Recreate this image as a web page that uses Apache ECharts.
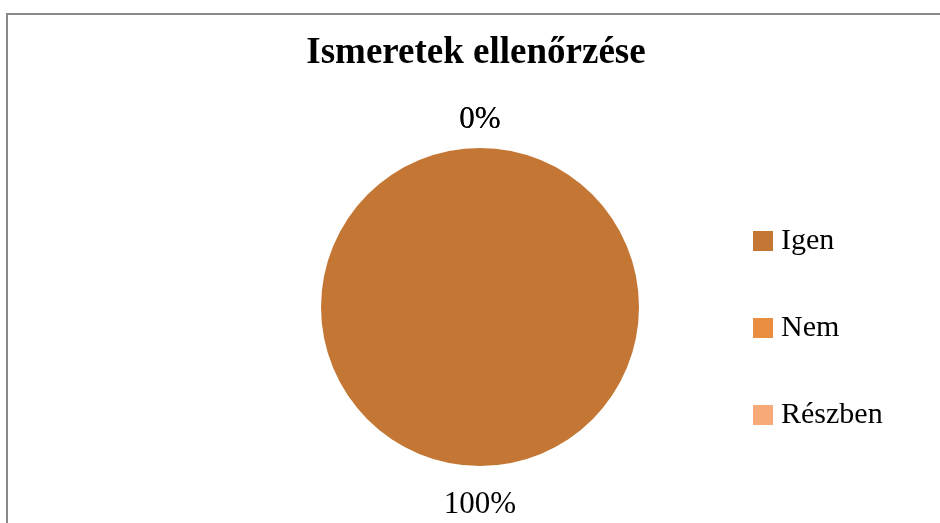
<!DOCTYPE html>
<html>
<head>
<meta charset="utf-8">
<script src="https://cdn.jsdelivr.net/npm/echarts@6/dist/echarts.min.js"></script>
<style>html,body{margin:0;padding:0;background:#fff}#c{width:940px;height:523px}</style>
</head>
<body>
<div id="c"></div>
<script>
var categories = ['Igen', 'Nem', 'Részben'];
var values = [100, 0, 0];
var colors = ['#C47735', '#E98D40', '#F7AA78'];
var titleText = 'Ismeretek ellenőrzése';
var FONT = '"Liberation Serif", "Times New Roman", serif';

var chart = echarts.init(document.getElementById('c'), null, {renderer: 'canvas'});
var data = categories.map(function (c, i) {
  return {name: c, value: values[i], itemStyle: {color: colors[i]}};
});
chart.setOption({
  animation: false,
  backgroundColor: '#ffffff',
  graphic: [{
    type: 'rect', silent: true,
    shape: {x: 7, y: 14, width: 1000, height: 600},
    style: {fill: 'none', stroke: '#898989', lineWidth: 2}
  }],
  title: {
    text: titleText, left: 471, top: 30, textAlign: 'center',
    textStyle: {fontFamily: FONT, fontSize: 37, fontWeight: 'bold', color: '#000'}
  },
  legend: {
    orient: 'vertical', left: 753, top: 226, padding: 0,
    itemWidth: 20, itemHeight: 20, itemGap: 57, icon: 'rect',
    data: categories,
    textStyle: {fontFamily: FONT, fontSize: 30, color: '#000', padding: [0, 0, 0, 3]}
  },
  series: [{
    type: 'pie',
    center: [480, 307],
    radius: 159,
    startAngle: 90,
    clockwise: true,
    avoidLabelOverlap: false,
    stillShowZeroSum: true,
    itemStyle: {borderWidth: 0},
    emphasis: {disabled: true},
    label: {
      show: true, position: 'outside', distanceToLabelLine: 0,
      formatter: function (p) { return p.percent.toFixed(0) + '%'; },
      fontFamily: FONT, fontSize: 31, color: '#000'
    },
    labelLine: {show: false, length: 25, length2: 0},
    labelLayout: function (p) {
      return {align: 'center', verticalAlign: 'middle', dy: p.dataIndex === 0 ? 14 : -3};
    },
    data: data
  }]
});
</script>
</body>
</html>
